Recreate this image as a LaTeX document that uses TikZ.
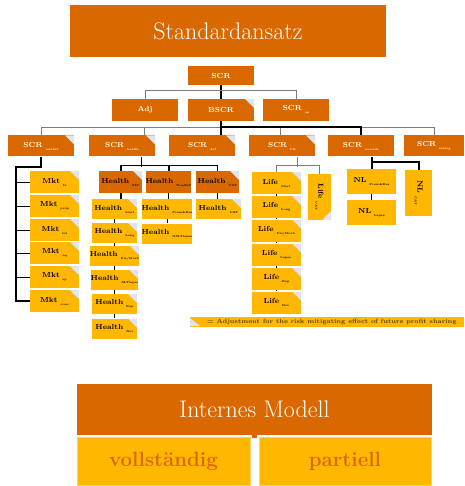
\documentclass[tikz,border=0pt]{standalone}
\usepackage{tikz}
\usepackage{graphicx}

\definecolor{sdark}{RGB}{218,104,0}
\definecolor{samber}{RGB}{255,183,0}
\definecolor{scorner}{RGB}{220,230,242}
\definecolor{sbus}{RGB}{125,125,125}
\definecolor{slegend}{RGB}{90,60,10}

% label with a tiny subscript
\newcommand{\lbl}[2]{\textbf{#1}\hspace{3pt}\raisebox{-3pt}{\fontsize{2.8}{3}\selectfont\bfseries #2}}

\tikzset{
  box/.style={rectangle, inner sep=0pt, font=\fontsize{7.3}{8}\selectfont},
  scrbox/.style={box, fill=sdark, text=white, minimum width=66pt, minimum height=21pt},
  hbox/.style={box, fill=sdark, text=black, minimum width=43pt, minimum height=22pt},
  ambox/.style={box, fill=samber, text=black},
  corner/.style={path picture={\fill[scorner] (path picture bounding box.north east)
      -- ++(-9pt,0pt) -- ++(9pt,-9pt) -- cycle;}},
  cornerbr/.style={path picture={\fill[scorner] (path picture bounding box.south east)
      -- ++(-9pt,0pt) -- ++(9pt,9pt) -- cycle;}},
  bigbox/.style={rectangle, inner sep=0pt, fill=sdark, text=white,
      font=\fontsize{24}{28}\selectfont},
  subbox/.style={rectangle, inner sep=0pt, fill=samber, draw=samber!60!white,
      line width=0.8pt, text=sdark, minimum width=172pt, minimum height=48pt,
      font=\fontsize{20.5}{24}\selectfont\bfseries},
  link/.style={black, line width=0.8pt},
  heavy/.style={black, line width=2pt},
  bus/.style={sbus, line width=0.9pt}
}

\begin{document}
\begin{tikzpicture}[x=1pt,y=-1pt]
    \useasboundingbox (0,0) rectangle (464,486);

    % Standardansatz
    \node[bigbox, minimum width=316pt, minimum height=52pt] (title) at (228,31) {Standardansatz};

    \node[scrbox, minimum height=19pt] (scr) at (221,75.5) {\textbf{SCR}};
    \node[scrbox, minimum height=22pt] (adj) at (145,110) {\textbf{Adj}};
    \node[scrbox, minimum height=22pt, corner] (bscr) at (221,110) {\textbf{BSCR}};
    \node[scrbox, minimum height=22pt] (scrop) at (296,110) {\lbl{SCR}{op}};

    \draw[heavy] (scr.south) -- (bscr.north);
    \draw[bus] (adj.north) -- ++(0,-8) -| (scrop.north);

    % modules
    \node[scrbox, corner] (scrmkt) at (41,146) {\lbl{SCR}{market}};
    \node[scrbox, corner] (scrhealth) at (122,146) {\lbl{SCR}{health}};
    \node[scrbox, corner] (scrdef) at (202,146) {\lbl{SCR}{def}};
    \node[scrbox, corner] (scrlife) at (282,146) {\lbl{SCR}{life}};
    \node[scrbox] (scrnl) at (361,146) {\lbl{SCR}{non-life}};
    \node[scrbox, minimum width=60pt] (scrint) at (434,146) {\lbl{SCR}{intang}};

    \draw[bus] (scrmkt.north) -- ++(0,-8) -| (scrint.north);
    \draw[bus] ([xshift=22pt]scrhealth.north) -- ++(0,-8);
    \draw[bus] ([xshift=-2pt]scrlife.north) -- ++(0,-8);
    \draw[heavy] (bscr.south) -- (bscr.south |- scrdef.north);
    \draw[heavy] (scrnl.north) -- ++(0,-8) -| (bscr.south);

    % market
    \foreach \i/\y/\s in {1/182/fx, 2/206/prop, 3/230/int, 4/253/eq, 5/277/sp, 6/301/conc}
    \node[ambox, minimum width=49pt, minimum height=22pt, corner] (mkt\i) at (54.5,\y) {\lbl{Mkt}{\s}};
    \draw[heavy] (scrmkt.south) -- ++(0,10) -| ([xshift=-14pt]mkt6.west) -- (mkt6.west);
    \foreach \i in {1,...,5}
    \draw[link] (mkt\i.west) -- ++(-14,0);

    % health
    \node[hbox, corner] (hslt) at (120.5,182) {\lbl{Health}{SLT}};
    \node[hbox] (hnslt) at (168.5,182) {\lbl{Health}{NonSLT}};
    \node[hbox, corner] (hcat) at (217.5,182) {\lbl{Health}{CAT}};
    \draw[link] ([xshift=19pt]scrhealth.south) -- ++(0,10);
    \draw[link] (hslt.north) -- ++(0,-5) -| (hcat.north);
    \draw[heavy] (hslt.north) -- ++(0,-5);
    \draw[heavy] (hnslt.north) -- ++(0,-5);

    \foreach \i/\y/\s in {1/209/Mort, 2/233/Long, 3/256/Dis\slash Morb, 4/280/SLTlapse, 5/304/Exp, 6/328.5/Rev}
    \node[ambox, minimum width=45pt, minimum height=20pt, corner] (hs\i) at (114.5,\y) {\lbl{Health}{\s}};
    \draw[heavy] (hslt.south) -- (hslt.south |- hs1.north);
    \foreach \i [count=\j from 2] in {1,...,5}
    \draw[link] (hs\i.south) -- (hs\j.north);

    \node[ambox, minimum width=46pt, minimum height=20pt] (hn1) at (167,209) {\lbl{Health}{Prem\&Res}};
    \node[ambox, minimum width=46pt, minimum height=20pt] (hn2) at (167,233.5) {\lbl{Health}{NSLTlapse}};
    \draw[link] (hnslt.south) -- (hnslt.south |- hn1.north);
    \draw[link] (hn1.south) -- (hn2.north);

    \node[ambox, minimum width=45pt, minimum height=20pt, corner] (hc1) at (218.5,209) {\lbl{Health}{CAT}};
    \draw[link] (hcat.south) -- (hcat.south |- hc1.north);

    % life
    \foreach \i/\y/\s in {1/183/Mort, 2/207/Long, 3/230.5/Dis\slash Morb, 4/254.5/Lapse, 5/279/Exp, 6/302.5/Rev}
    \node[ambox, minimum width=49pt, minimum height=22pt, corner] (life\i) at (276.5,\y) {\lbl{Life}{\s}};
    \node[ambox, minimum width=23pt, minimum height=46pt, cornerbr] (lifecat) at (319.5,197) {\rotatebox{-90}{\lbl{Life}{CAT}}};
    \draw[bus] ([xshift=15pt]scrlife.south) -- ++(0,10);
    \draw[bus] (life1.north) -- ++(0,-6) -| (lifecat.north);
    \foreach \i [count=\j from 2] in {1,...,5}
    \draw[link] (life\i.south) -- (life\j.north);

    % non-life
    \node[ambox, minimum width=49pt, minimum height=25pt] (nl1) at (371.5,181.5) {\lbl{NL}{Prem\&Res}};
    \node[ambox, minimum width=49pt, minimum height=25pt] (nl2) at (371.5,212.5) {\lbl{NL}{Lapse}};
    \node[ambox, minimum width=27pt, minimum height=46pt] (nlcat) at (418.5,193) {\rotatebox{-90}{\lbl{NL}{CAT}}};
    \draw[heavy] (nl1.north) -- (nl1.north |- scrnl.south);
    \draw[heavy] (nl1.north) -- ++(0,-7) -| (nlcat.north);
    \draw[link] (nl1.south) -- (nl2.north);

    % legend
    \node[rectangle, inner sep=0pt, fill=samber, minimum width=274pt, minimum height=10pt, anchor=west] (legend) at (190,322) {};
    \fill[scorner] (190,318) -- (190,326) -- (200,326) -- cycle;
    \node[anchor=west, inner sep=0pt, text=slegend, font=\fontsize{6.1}{7}\selectfont\bfseries] (legendtext) at (207,322)
        {= Adjustment for the risk mitigating effect of future profit sharing};

    % Internes Modell
    \node[bigbox, minimum width=355pt, minimum height=51pt] (im) at (254.5,409.5) {Internes Modell};
    \node[subbox, minimum width=173pt] (voll) at (163.5,461.5) {vollständig};
    \node[subbox] (part) at (345,461.5) {partiell};
    \draw[sdark, line width=5pt] (im.south) -- ++(0,3);

\end{tikzpicture}
\end{document}
